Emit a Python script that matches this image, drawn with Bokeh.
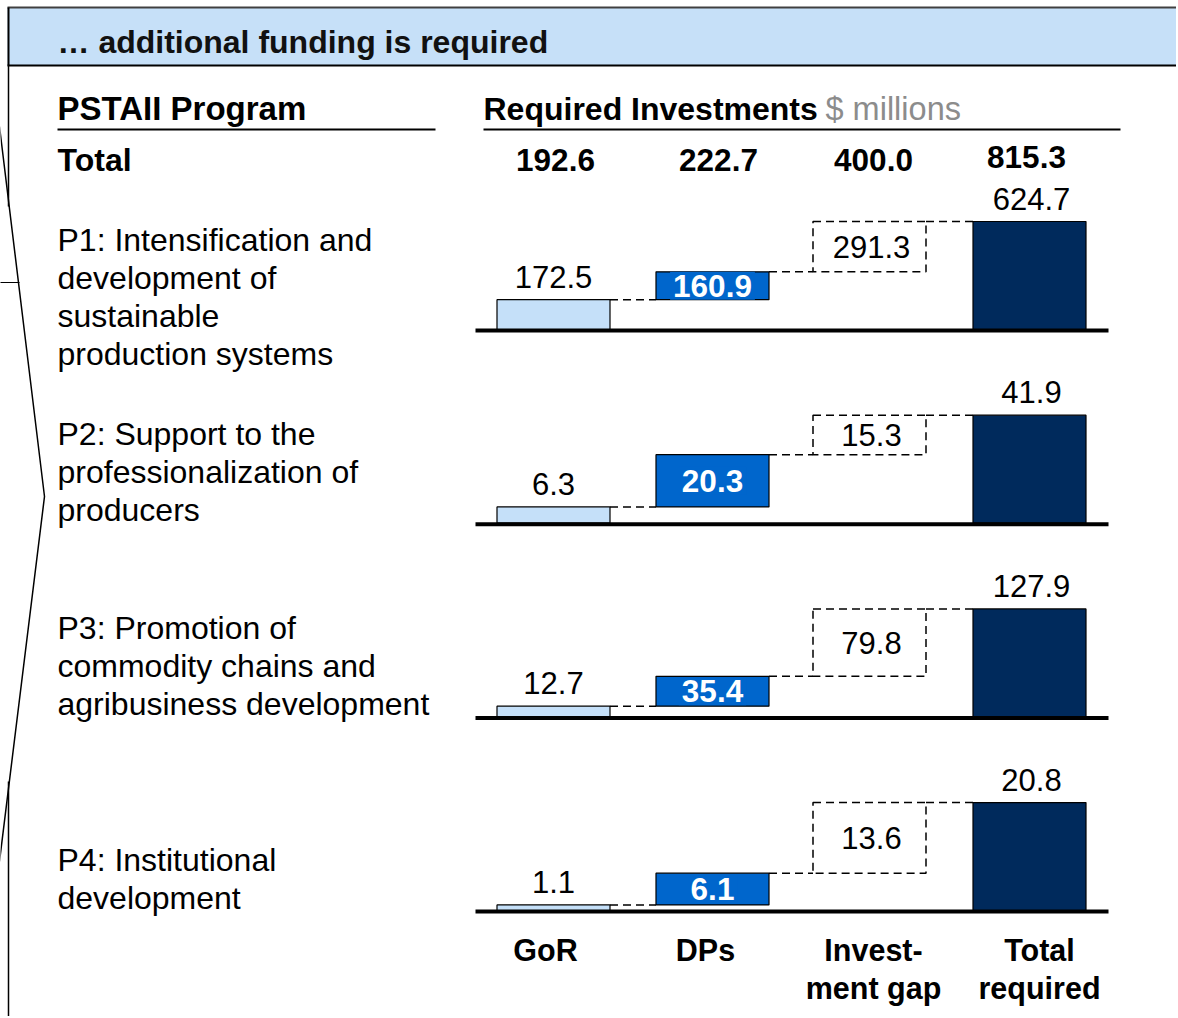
from bokeh.plotting import figure
from bokeh.models import Range1d
from bokeh.embed import file_html
from bokeh.resources import INLINE
from bokeh.core.properties import value

# ---------------- data ----------------
program_labels = [
    ["P1: Intensification and", "development of", "sustainable", "production systems"],
    ["P2: Support to the", "professionalization of", "producers"],
    ["P3: Promotion of", "commodity chains and", "agribusiness development"],
    ["P4: Institutional", "development"],
]
gor = [172.5, 6.3, 12.7, 1.1]
dps = [160.9, 20.3, 35.4, 6.1]
gap = [291.3, 15.3, 79.8, 13.6]
total_required = [624.7, 41.9, 127.9, 20.8]
column_totals = ["192.6", "222.7", "400.0", "815.3"]
categories = [["GoR"], ["DPs"], ["Invest-", "ment gap"], ["Total", "required"]]

title = "\u2026 additional funding is required"
left_header = "PSTAII Program"
right_header = "Required Investments"
unit_text = "$ millions"
total_word = "Total"

# ---------------- layout ----------------
FONT = value("Liberation Sans")
W, H = 1176, 1016
X0, Y0 = 1, 1
p = figure(width=W, height=H, x_range=Range1d(X0, X0 + W), y_range=Range1d(Y0 + H, Y0),
           output_backend="svg", toolbar_location=None, min_border=0,
           x_axis_location=None, y_axis_location=None)
p.grid.visible = False
p.outline_line_color = None
p.background_fill_color = "white"

# header band
p.quad(left=[8], right=[1200], top=[8], bottom=[66], fill_color="#C6E0F8",
       line_color=None)
p.segment(x0=[8], y0=[8], x1=[1200], y1=[8], line_color="#404040", line_width=2)
p.segment(x0=[8], y0=[66], x1=[1200], y1=[66], line_color="black", line_width=2)
p.segment(x0=[9], y0=[8], x1=[9], y1=[66], line_color="black", line_width=2)
p.text(x=[58], y=[42], text=[title], text_font=FONT, text_font_style="bold",
       text_font_size="32px", text_baseline="middle", text_color="#111111")

# brace / left decoration
p.line(x=[9, 9], y=[66, 207], line_color="black", line_width=1.5)
p.line(x=[0, 45, 0], y=[127, 497, 862], line_color="black", line_width=1.5)
p.line(x=[9, 9], y=[782, 1020], line_color="black", line_width=1.5)
p.segment(x0=[0], y0=[283], x1=[20], y1=[283], line_color="black", line_width=1)

# column headers
p.text(x=[58], y=[109], text=[left_header], text_font=FONT, text_font_style="bold",
       text_font_size="33px", text_baseline="middle")
p.segment(x0=[58], y0=[130], x1=[436], y1=[130], line_color="black", line_width=2)
p.text(x=[484], y=[109], text=[right_header], text_font=FONT, text_font_style="bold",
       text_font_size="32px", text_baseline="middle")
p.text(x=[826], y=[109], text=[unit_text], text_font=FONT,
       text_font_size="32.5px", text_baseline="middle", text_color="#8C8C8C")
p.segment(x0=[484], y0=[130], x1=[1121], y1=[130], line_color="black", line_width=2)

col_centers = [554, 713, 870, 1030]
bar_w = 113
half = bar_w / 2

p.text(x=[58], y=[160], text=[total_word], text_font=FONT, text_font_style="bold",
       text_font_size="32px", text_baseline="middle")
p.text(x=[c + d for c, d in zip(col_centers, [2, 6, 4, -3])], y=[160, 160, 160, 157],
       text=column_totals, text_font=FONT, text_font_style="bold",
       text_font_size="31.5px", text_baseline="middle", text_align="center")

base0, step, span = 330, 193.7, 108
label_first = [-90, -89, -89, -51]
line_gap = 38
DASH = "8 5"

for i in range(4):
    base = base0 + i * step
    s = span / total_required[i]
    g_top = base - gor[i] * s
    d_top = g_top - dps[i] * s
    t_top = base - total_required[i] * s
    xl = [c - half for c in col_centers]
    xr = [c + half for c in col_centers]

    # row label
    ys = [base + label_first[i] + k * line_gap for k in range(len(program_labels[i]))]
    p.text(x=[58] * len(ys), y=ys, text=program_labels[i], text_font=FONT,
           text_font_size="32px", text_baseline="middle")

    # connectors
    p.segment(x0=[xr[0], xr[1], xr[2]], y0=[g_top, d_top, t_top],
              x1=[xl[1], xl[2], xl[3]], y1=[g_top, d_top, t_top],
              line_color="black", line_width=1.5, line_dash=DASH)

    # bars
    p.quad(left=[xl[0]], right=[xr[0]], top=[g_top], bottom=[base],
           fill_color="#C5E0F9", line_color="black", line_width=1.2)
    p.quad(left=[xl[1]], right=[xr[1]], top=[d_top], bottom=[g_top],
           fill_color="#0066CC", line_color="black", line_width=1.2)
    p.quad(left=[xl[2]], right=[xr[2]], top=[t_top], bottom=[d_top],
           fill_color=None, line_color="black", line_width=1.5, line_dash=DASH)
    p.quad(left=[xl[3]], right=[xr[3]], top=[t_top], bottom=[base],
           fill_color="#002A5C", line_color="black", line_width=1.2)

    # baseline
    p.segment(x0=[476], y0=[base + 1], x1=[1109], y1=[base + 1], line_color="black",
              line_width=4)

    # labels
    p.text(x=[col_centers[0]], y=[g_top - 23], text=[f"{gor[i]:.1f}"], text_font=FONT,
           text_font_size="31px", text_baseline="middle", text_align="center")
    p.text(x=[col_centers[1]], y=[(g_top + d_top) / 2], text=[f"{dps[i]:.1f}"],
           text_font=FONT, text_font_style="bold", text_font_size="31.5px",
           text_baseline="middle", text_align="center", text_color="white",
           background_fill_color="#0066CC", padding=3)
    p.text(x=[col_centers[2] + 2], y=[(d_top + t_top) / 2], text=[f"{gap[i]:.1f}"],
           text_font=FONT, text_font_size="31px", text_baseline="middle",
           text_align="center")
    p.text(x=[col_centers[3] + 2], y=[t_top - 23], text=[f"{total_required[i]:.1f}"],
           text_font=FONT, text_font_size="31px", text_baseline="middle",
           text_align="center")

# category labels
cat_x = [c + d for c, d in zip(col_centers, [-8, -7, 4, 10])]
for cx, lines in zip(cat_x, categories):
    p.text(x=[cx] * len(lines), y=[950 + k * 38 for k in range(len(lines))], text=lines,
           text_font=FONT, text_font_style="bold", text_font_size="30.5px",
           text_baseline="middle", text_align="center")

open("out.html", "w").write(file_html(p, INLINE))
